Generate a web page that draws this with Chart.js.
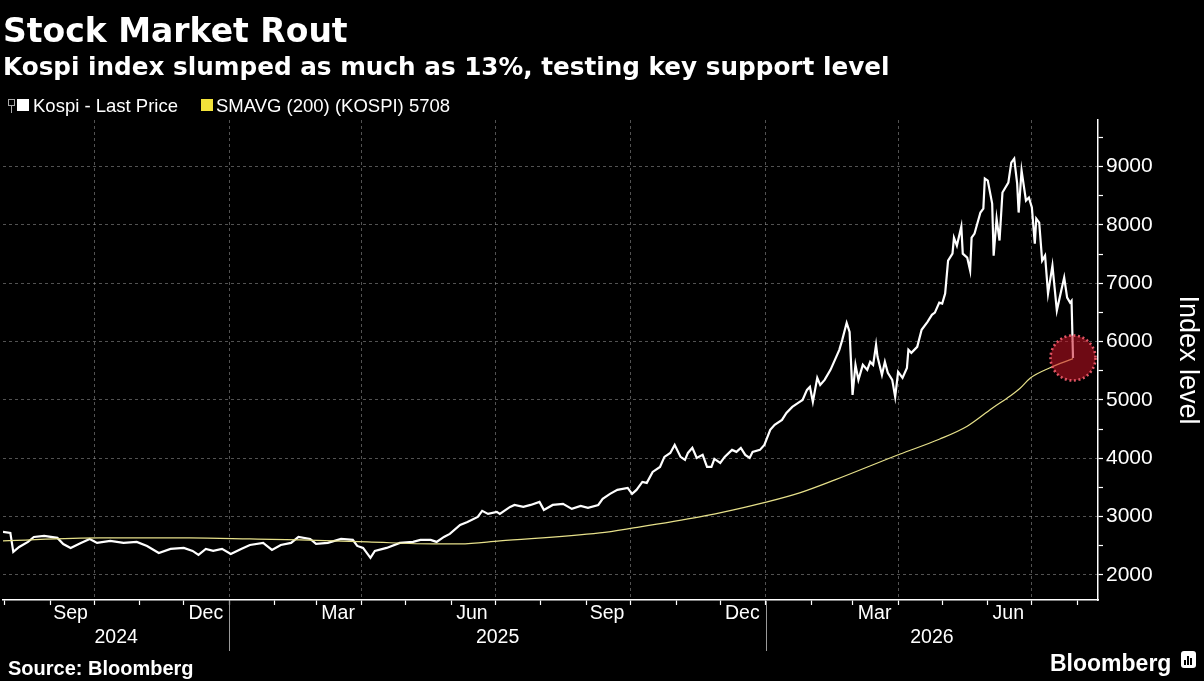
<!DOCTYPE html>
<html><head><meta charset="utf-8">
<script src="https://cdn.jsdelivr.net/npm/chart.js@4.4.1/dist/chart.umd.min.js"></script>
<style>
html,body{margin:0;padding:0;background:#000;width:1204px;height:681px;overflow:hidden;}
#wrap{position:relative;width:1204px;height:681px;background:#000;}
#c{position:absolute;left:0;top:0;}
.t{position:absolute;color:#fff;white-space:nowrap;line-height:1;}
#title{left:3px;top:11px;font:bold 33px "DejaVu Sans";}
#sub{left:3px;top:52px;font:bold 24.7px "DejaVu Sans";}
.lg{position:absolute;top:96px;font:18.5px "Liberation Sans";color:#fff;line-height:19px;white-space:nowrap;}
.sq{position:absolute;top:99px;width:12px;height:12px;}
#icon{position:absolute;left:8px;top:99px;width:5px;height:5px;border:1px solid #aaa;}
#icon2{position:absolute;left:11px;top:106px;width:1px;height:7px;background:#aaa;}
#src{left:8px;top:657px;font:bold 20px "Liberation Sans";}
#bb{left:1050px;top:650px;font:bold 23px "Liberation Sans";}
#logo{position:absolute;left:1181px;top:651px;width:15px;height:17px;background:#fff;border-radius:3px;}
#logo i{position:absolute;bottom:3px;width:2px;background:#000;}
</style></head>
<body><div id="wrap">
<canvas id="c" width="1204" height="681"></canvas>
<div class="t" id="title">Stock Market Rout</div>
<div class="t" id="sub">Kospi index slumped as much as 13%, testing key support level</div>
<div id="icon"></div><div id="icon2"></div>
<div class="sq" style="left:17px;background:#fff"></div>
<div class="lg" style="left:33px">Kospi - Last Price</div>
<div class="sq" style="left:201px;background:#f2e23a"></div>
<div class="lg" style="left:216px">SMAVG (200) (KOSPI) 5708</div>
<div class="t" id="src">Source: Bloomberg</div>
<div class="t" id="bb">Bloomberg</div>
<div id="logo"><i style="left:3px;height:5px"></i><i style="left:6px;height:9px"></i><i style="left:9px;height:7px"></i></div>
</div>
<script>
// ---------------- DATA ----------------
const kospiDates = [
'2024-07-31','2024-08-05','2024-08-07','2024-08-11','2024-08-17','2024-08-21','2024-08-28',
'2024-09-06','2024-09-10','2024-09-15','2024-09-22','2024-09-28',
'2024-10-03','2024-10-12','2024-10-21','2024-10-30',
'2024-11-06','2024-11-14','2024-11-22',
'2024-12-01','2024-12-07','2024-12-11','2024-12-16','2024-12-21','2024-12-27',
'2025-01-02','2025-01-09','2025-01-15','2025-01-24','2025-01-30',
'2025-02-05','2025-02-12','2025-02-17','2025-02-25',
'2025-03-01','2025-03-09','2025-03-18','2025-03-26','2025-03-29',
'2025-04-02','2025-04-07','2025-04-10','2025-04-18','2025-04-27',
'2025-05-06','2025-05-11','2025-05-18','2025-05-22','2025-05-27','2025-05-31',
'2025-06-07','2025-06-12','2025-06-19','2025-06-22','2025-06-26',
'2025-07-02','2025-07-04','2025-07-11','2025-07-14','2025-07-20','2025-07-25','2025-07-31',
'2025-08-03','2025-08-09','2025-08-16','2025-08-22','2025-08-28',
'2025-09-02','2025-09-09','2025-09-12','2025-09-17','2025-09-22','2025-09-29',
'2025-10-02','2025-10-05','2025-10-09','2025-10-12','2025-10-16','2025-10-21','2025-10-24','2025-10-28','2025-10-31',
'2025-11-04','2025-11-07','2025-11-09','2025-11-12','2025-11-15','2025-11-19','2025-11-22','2025-11-25','2025-11-27',
'2025-12-01','2025-12-04','2025-12-09','2025-12-12','2025-12-15','2025-12-18','2025-12-21','2025-12-23','2025-12-28','2025-12-31',
'2026-01-04','2026-01-07','2026-01-12','2026-01-15','2026-01-19','2026-01-23','2026-01-26','2026-01-29','2026-01-31',
'2026-02-02','2026-02-05','2026-02-07','2026-02-10','2026-02-14','2026-02-17','2026-02-20','2026-02-22','2026-02-25','2026-02-27',
'2026-03-01','2026-03-03','2026-03-05','2026-03-08','2026-03-11','2026-03-13','2026-03-15','2026-03-17','2026-03-18','2026-03-21','2026-03-23','2026-03-25','2026-03-28','2026-03-30',
'2026-04-01','2026-04-04','2026-04-07','2026-04-08','2026-04-10','2026-04-14','2026-04-17','2026-04-21','2026-04-24','2026-04-26','2026-04-29',
'2026-05-01','2026-05-03','2026-05-05','2026-05-08','2026-05-09','2026-05-11','2026-05-14','2026-05-15','2026-05-18','2026-05-20','2026-05-21','2026-05-23','2026-05-27','2026-05-29','2026-05-30',
'2026-06-01','2026-06-04','2026-06-05','2026-06-07','2026-06-09','2026-06-11','2026-06-15','2026-06-17','2026-06-19','2026-06-21','2026-06-22','2026-06-24','2026-06-27','2026-06-29',
'2026-07-01','2026-07-03','2026-07-04','2026-07-06','2026-07-08','2026-07-10','2026-07-12','2026-07-15','2026-07-18','2026-07-21','2026-07-23','2026-07-25','2026-07-27','2026-07-28','2026-07-29'
];
const kospiValues = [
2737,2720,2394,2480,2566,2650,2670,
2635,2530,2463,2549,2617,
2549,2583,2549,2566,
2497,2377,2446,
2463,2412,2343,2446,2412,2446,
2360,2446,2514,2549,2429,
2514,2549,2652,2617,
2531,2549,2617,2600,2497,
2463,2292,2412,2463,2549,
2566,2600,2600,2566,2652,2703,
2858,2909,2995,3098,3046,
3080,3046,3166,3200,3166,3200,3252,
3115,3200,3218,3132,3183,
3149,3200,3303,3389,3458,3492,
3389,3458,3595,3578,3766,3852,4024,4092,4229,
4024,3972,4092,4178,4006,4058,3852,3852,3989,
3921,4024,4144,4110,4178,4058,4006,4110,4144,4229,
4487,4573,4658,4778,4881,4950,5001,5172,5224,
4967,5378,5258,5344,5516,5687,5859,6030,6322,6167,
5087,5602,5344,5602,5516,5653,5602,5945,5739,5430,5653,5464,5344,5053,
5481,5378,5550,5859,5807,5910,6202,6339,6459,6497,6669,
6652,6823,7389,7509,7784,7647,7973,7509,7441,7218,7784,7853,8213,8281,8796,
8762,8367,7475,8110,7733,8556,8727,9070,9139,8710,8213,8933,8419,8470,
8299,7681,8110,8041,7389,7475,6823,7304,6532,6875,7098,6755,6669,6700,5720
];
const smaDates = [
'2024-07-31','2024-10-05','2024-12-05','2025-01-15','2025-02-18','2025-04-05','2025-05-20','2025-06-07',
'2025-07-04','2025-09-10','2025-10-03','2025-11-17','2025-12-10','2026-01-02','2026-01-24','2026-02-17',
'2026-04-02','2026-04-29','2026-05-18','2026-06-04','2026-06-16','2026-06-23','2026-06-30','2026-07-13','2026-07-29'
];
const smaValues = [
2583,2634,2634,2617,2600,2566,2531,2531,
2583,2720,2806,2995,3115,3252,3406,3629,
4069,4326,4549,4858,5063,5200,5377,5549,5708
];
const axisStart = '2024-07-31';
const axisEnd = '2026-08-15';
const monthTickDates = ['2024-08-01','2024-09-01','2024-10-01','2024-11-01','2024-12-01','2025-01-01','2025-02-01','2025-03-01','2025-04-01','2025-05-01','2025-06-01','2025-07-01','2025-08-01','2025-09-01','2025-10-01','2025-11-01','2025-12-01','2026-01-01','2026-02-01','2026-03-01','2026-04-01','2026-05-01','2026-06-01','2026-07-01','2026-08-01'];
const quarterGridDates = ['2024-10-01','2025-01-01','2025-04-01','2025-07-01','2025-10-01','2026-01-01','2026-04-01','2026-07-01'];
const monthLabels = ['Sep','Dec','Mar','Jun','Sep','Dec','Mar','Jun'];
const monthLabelDates = ['2024-09-15','2024-12-16','2025-03-16','2025-06-15','2025-09-15','2025-12-16','2026-03-16','2026-06-15'];
const yearLabels = ['2024','2025','2026'];
const yearBreaks = ['2025-01-01','2026-01-01'];
const yMin = 1570, yMax = 9800;
const yTickValues = [2000,2500,3000,3500,4000,4500,5000,5500,6000,6500,7000,7500,8000,8500,9000,9500];

// ---------------- HELPERS ----------------
const day = s => { const [y,m,d] = s.split('-').map(Number); return (Date.UTC(y,m-1,d) - Date.UTC(2025,0,1)) / 86400000; };
const kospiData = kospiDates.map((d,i) => ({x: day(d), y: kospiValues[i]}));
const smaData = smaDates.map((d,i) => ({x: day(d), y: smaValues[i]}));
const xMin = day(axisStart), xMax = day(axisEnd);
const quarterSet = new Set(quarterGridDates.map(day));
const yearEdges = [xMin, ...yearBreaks.map(day), xMax];
const yearCenters = yearLabels.map((_, i) => (yearEdges[i] + yearEdges[i+1]) / 2);

const FONT = 'Liberation Sans';
const GRID = 'rgba(150,150,150,0.55)';

const overlay = {
  id: 'overlay',
  afterDatasetsDraw(chart) {
    const ctx = chart.ctx;
    const meta = chart.getDatasetMeta(1);
    const p = meta.data[meta.data.length - 1];
    ctx.save();
    ctx.beginPath();
    ctx.arc(p.x, p.y, 22.5, 0, Math.PI * 2);
    ctx.fillStyle = 'rgba(200,18,36,0.55)';
    ctx.fill();
    ctx.setLineDash([2, 2.6]);
    ctx.lineWidth = 2.6;
    ctx.strokeStyle = 'rgba(235,90,105,0.95)';
    ctx.stroke();
    ctx.restore();
  },
  afterDraw(chart) {
    const ctx = chart.ctx, xs = chart.scales.x, b = chart.chartArea.bottom;
    ctx.save();
    ctx.strokeStyle = '#9a9a9a';
    ctx.lineWidth = 1;
    yearBreaks.forEach(s => {
      const px = Math.round(xs.getPixelForValue(day(s))) + 0.5;
      ctx.beginPath(); ctx.moveTo(px, b + 1); ctx.lineTo(px, b + 51); ctx.stroke();
    });
    ctx.restore();
  }
};

new Chart(document.getElementById('c'), {
  type: 'line',
  data: {
    datasets: [
      { label: 'SMAVG (200) (KOSPI)', data: smaData, borderColor: '#e6e08a', borderWidth: 1.2,
        pointRadius: 0, cubicInterpolationMode: 'monotone', order: 1 },
      { label: 'Kospi - Last Price', data: kospiData, borderColor: '#ffffff', borderWidth: 2.2,
        pointRadius: 0, tension: 0, order: 2 }
    ]
  },
  options: {
    responsive: false,
    animation: false,
    events: [],
    layout: { padding: { left: 3, top: 120, right: 0, bottom: 31 } },
    plugins: { legend: { display: false }, tooltip: { enabled: false } },
    scales: {
      x: {
        type: 'linear', position: 'bottom', min: xMin, max: xMax, weight: 0,
        afterBuildTicks: s => { s.ticks = monthTickDates.map(d => ({ value: day(d) })); },
        afterFit: s => { s.height = 2; },
        ticks: { display: false },
        grid: {
          color: c => quarterSet.has(c.tick && c.tick.value) ? GRID : 'rgba(0,0,0,0)',
          lineWidth: 1, drawTicks: true, tickLength: 5, tickColor: '#ffffff', tickWidth: 1.2, tickBorderDash: []
        },
        border: { display: true, color: '#ffffff', width: 1.5, dash: [3, 3] }
      },
      xm: {
        type: 'linear', axis: 'x', position: 'bottom', min: xMin, max: xMax, weight: 1,
        afterBuildTicks: s => { s.ticks = monthLabelDates.map(d => ({ value: day(d) })); },
        afterFit: s => { s.height = 24; },
        ticks: { color: '#ffffff', font: { family: FONT, size: 19.5 }, padding: 0, autoSkip: false, maxRotation: 0, minRotation: 0,
                 callback: (v, i) => monthLabels[i] },
        grid: { display: false, drawTicks: false },
        border: { display: false }
      },
      xy: {
        type: 'linear', axis: 'x', position: 'bottom', min: xMin, max: xMax, weight: 2,
        afterBuildTicks: s => { s.ticks = yearCenters.map(v => ({ value: v })); },
        afterFit: s => { s.height = 24; },
        ticks: { color: '#ffffff', font: { family: FONT, size: 19.5 }, padding: 0, autoSkip: false, maxRotation: 0, minRotation: 0,
                 callback: (v, i) => yearLabels[i] },
        grid: { display: false, drawTicks: false },
        border: { display: false }
      },
      y: {
        type: 'linear', position: 'right', min: yMin, max: yMax,
        afterBuildTicks: s => { s.ticks = yTickValues.map(v => ({ value: v })); },
        afterFit: s => { s.width = 106; },
        ticks: { color: '#ffffff', font: { family: FONT, size: 21 }, padding: 3,
                 callback: v => (v % 1000 === 0 ? String(v) : '') },
        grid: {
          color: c => (c.tick && c.tick.value % 1000 === 0) ? GRID : 'rgba(0,0,0,0)',
          lineWidth: 1, drawTicks: true, tickLength: 5, tickColor: '#ffffff', tickWidth: 1.2, tickBorderDash: []
        },
        border: { display: true, color: '#ffffff', width: 1.5, dash: [3, 3] },
        title: { display: true, text: 'Index level', color: '#ffffff', font: { family: FONT, size: 27 }, padding: { top: 0, bottom: 0 } }
      }
    }
  },
  plugins: [overlay]
});
</script>
</body></html>
